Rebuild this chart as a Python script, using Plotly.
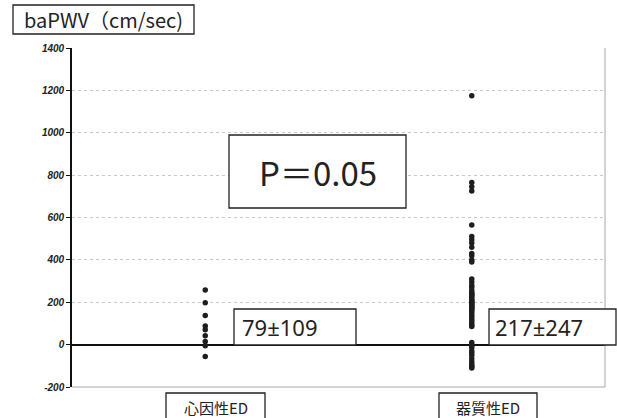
import plotly.graph_objects as go

# Groups and individual baPWV values (cm/sec)
categories = ["心因性ED", "器質性ED"]
psychogenic = [258, 198, 137, 88, 70, 42, 15, -5, -56]
organic = [1175, 765, 745, 725, 565, 510, 495, 480, 460, 430, 420, 400, 390,
           310, 295, 280, 270, 255, 245, 240, 235, 230, 225, 215, 210, 205, 200,
           195, 190, 185, 180, 175, 170, 165, 160, 150, 140, 130, 120, 110, 100,
           90, 85, 10, 0, -5, -15, -30, -40, -50, -65, -80, -90, -100, -105, -110]
stats_labels = ["79±109", "217±247"]
p_label = "P＝0.05"
y_title = "baPWV（cm/sec)"
y_ticks = [-200, 0, 200, 400, 600, 800, 1000, 1200, 1400]

W, H = 617, 418
L, R, T, B = 72, 12, 48, 31
PW, PH = W - L - R, H - T - B

def px(x):
    return (x - L) / PW

def py(y):
    return (H - B - y) / PH

CJK = "Noto Sans CJK JP, Noto Sans, sans-serif"
LATIN = "Noto Sans, sans-serif"

fig = go.Figure()
for i, vals in enumerate([psychogenic, organic]):
    fig.add_trace(go.Scatter(
        x=[i + 1] * len(vals), y=vals, mode="markers",
        marker=dict(size=5.5, color="#1e1e1e"),
        showlegend=False, cliponaxis=False,
    ))

shapes = []
annotations = []

# Gray frame on the right and bottom of the plot area
shapes.append(dict(type="line", xref="paper", yref="paper", x0=1, x1=1, y0=0, y1=1,
                   line=dict(color="#a8a8a8", width=1)))
shapes.append(dict(type="line", xref="paper", yref="paper", x0=0, x1=1, y0=0, y1=0,
                   line=dict(color="#a8a8a8", width=1)))

def boxed(text, x0, y0, x1, y1, size, family, tx=None, ty=None, xanchor="center"):
    shapes.append(dict(type="rect", xref="paper", yref="paper",
                       x0=px(x0), x1=px(x1), y0=py(y1), y1=py(y0),
                       line=dict(color="#222222", width=1.3),
                       fillcolor="white", layer="above"))
    annotations.append(dict(text=text, xref="paper", yref="paper",
                            x=px(tx if tx is not None else (x0 + x1) / 2),
                            y=py(ty if ty is not None else (y0 + y1) / 2),
                            xanchor=xanchor, yanchor="middle",
                            showarrow=False,
                            font=dict(family=family, size=size, color="#222222")))

# Axis title box
boxed(y_title, 13, 5, 194, 34, 20, CJK, ty=20)
# p-value box
boxed(p_label, 229, 135, 406, 208, 33, CJK, ty=172)
# Mean ± SD boxes
boxed(stats_labels[0], 234, 309, 356, 345, 22, LATIN, tx=240, ty=327, xanchor="left")
boxed(stats_labels[1], 489, 309, 616, 345, 22, LATIN, tx=493, ty=327, xanchor="left")
# Category label boxes
boxed(categories[0], 166, 393, 265, 420, 15, CJK, ty=407)
boxed(categories[1], 439, 393, 537, 420, 15, CJK, ty=407)

fig.update_layout(
    width=W, height=H,
    margin=dict(l=L, r=R, t=T, b=B),
    paper_bgcolor="white", plot_bgcolor="white",
    shapes=shapes, annotations=annotations,
    xaxis=dict(range=[0.5, 2.5], showticklabels=False, showgrid=False,
               zeroline=False, showline=False, ticks=""),
    yaxis=dict(range=[-200, 1400], tickvals=y_ticks,
               ticktext=[str(v) for v in y_ticks],
               showgrid=True, gridcolor="#c8c8c8", griddash="dot", gridwidth=1,
               zeroline=True, zerolinecolor="#111111", zerolinewidth=2.2,
               showline=True, linecolor="#111111", linewidth=1.6,
               ticks="outside", ticklen=4, tickcolor="#111111", tickwidth=1.2,
               tickfont=dict(family="Liberation Sans, Arial", size=10,
                             color="#222222", weight="bold", style="italic")),
)

fig.write_html("out.html")
